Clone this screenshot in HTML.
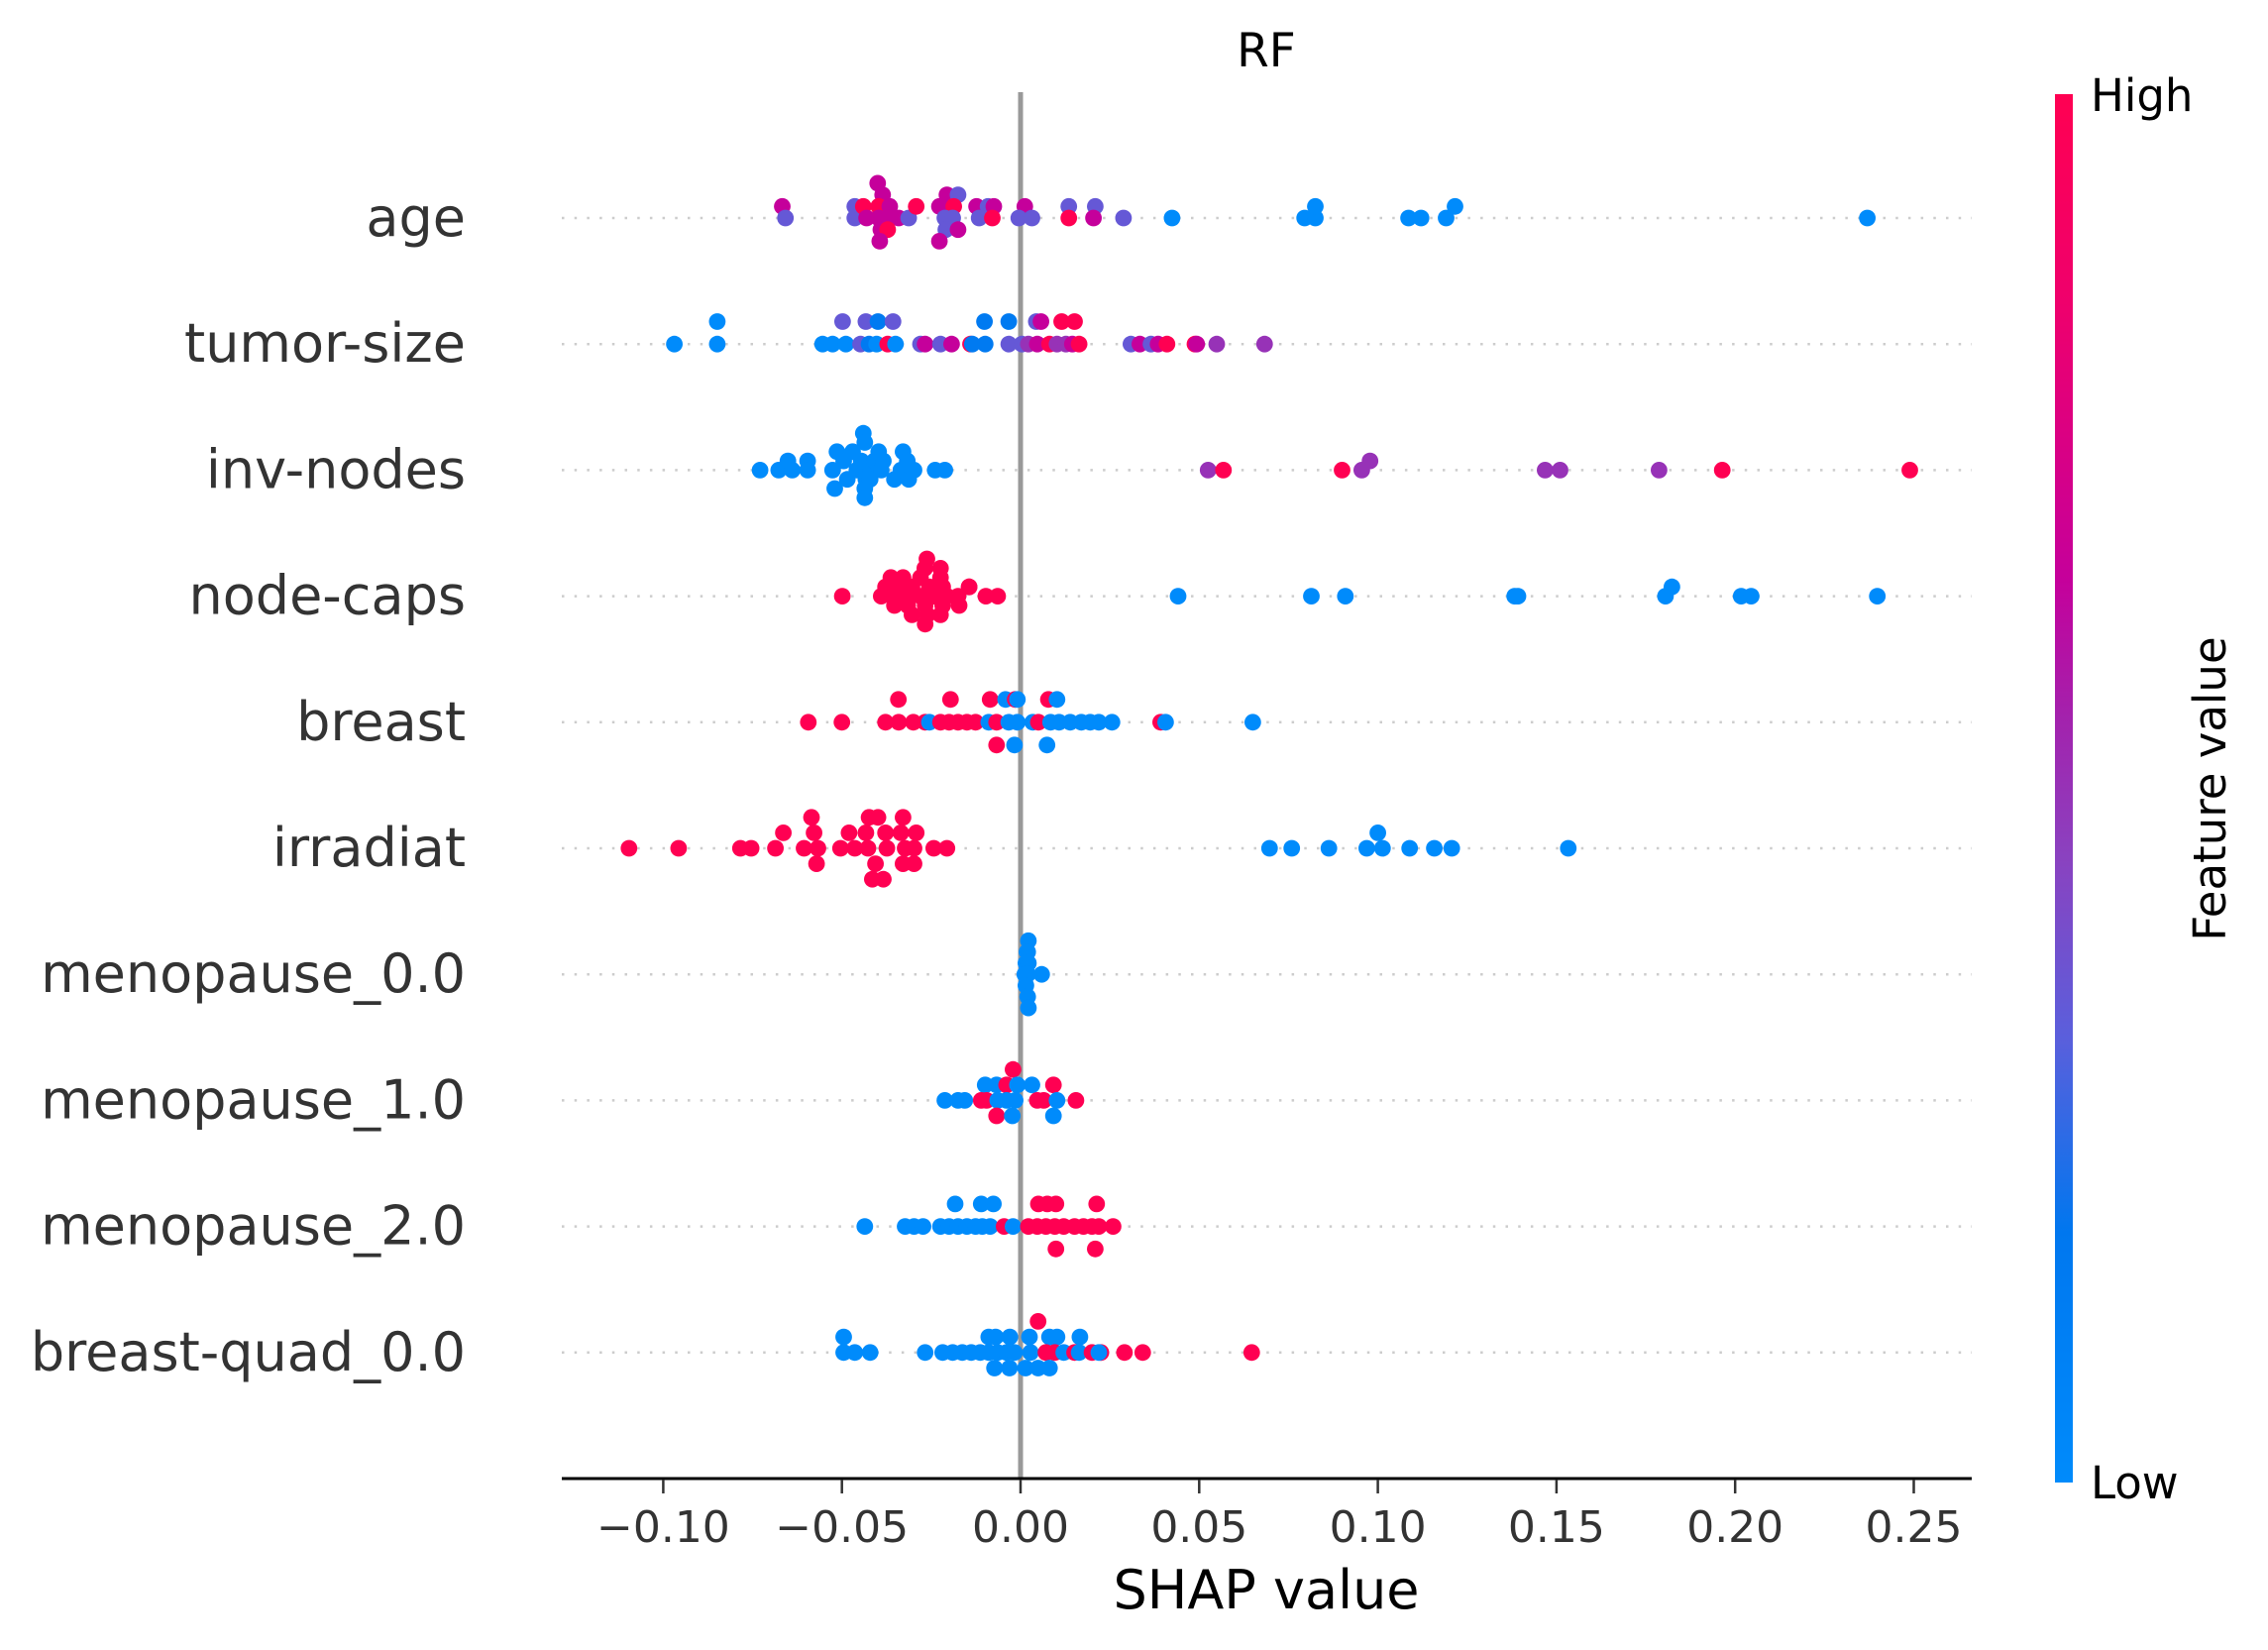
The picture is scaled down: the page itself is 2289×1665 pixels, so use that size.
<!DOCTYPE html>
<html><head><meta charset="utf-8"><style>
body{margin:0;background:#fff;}
svg{display:block;font-family:"DejaVu Sans","Liberation Sans",sans-serif;}
</style></head><body>
<svg id="chart" width="2289" height="1665" viewBox="0 0 2289 1665" xmlns="http://www.w3.org/2000/svg">
<defs>
<linearGradient id="cmap" x1="0" y1="1" x2="0" y2="0">
<stop offset="0" stop-color="#008bfb"/><stop offset="0.18" stop-color="#0077ef"/><stop offset="0.32" stop-color="#5a5fdc"/><stop offset="0.45" stop-color="#8a42c0"/><stop offset="0.55" stop-color="#a322ad"/><stop offset="0.65" stop-color="#c5009b"/><stop offset="0.85" stop-color="#ef006c"/><stop offset="1" stop-color="#ff0052"/>
</linearGradient>
</defs>
<text x="1278" y="67" font-size="47" text-anchor="middle" fill="#000">RF</text>
<g id="rows"></g>
<line x1="1030" y1="93" x2="1030" y2="1492" stroke="#999" stroke-width="5"/>
<g id="dots"></g>
<line x1="567" y1="1492" x2="1990" y2="1492" stroke="#000" stroke-width="3"/>
<g id="xticks"></g>
<text x="1278" y="1623" font-size="54" text-anchor="middle" fill="#000">SHAP value</text>
<rect x="2074" y="95" width="18" height="1401" fill="url(#cmap)"/>
<text x="2110" y="112" font-size="45" fill="#000">High</text>
<text x="2110" y="1512" font-size="45" fill="#000">Low</text>
<text transform="translate(2246,796) rotate(-90)" font-size="45" text-anchor="middle" fill="#000">Feature value</text>
</svg>
<script>
const features = ["age","tumor-size","inv-nodes","node-caps","breast","irradiat","menopause_0.0","menopause_1.0","menopause_2.0","breast-quad_0.0"];
const tickValues = [-0.10,-0.05,0.00,0.05,0.10,0.15,0.20,0.25];
const tickLabels = ["\u22120.10","\u22120.05","0.00","0.05","0.10","0.15","0.20","0.25"];
// points per feature: [shap value in hundredths, stack level, feature value 0..1]
const ageShap = [-6.67,-6.58,-4.64,-4.64,-4.40,-4.31,-4.0,-3.86,-3.97,-3.66,-3.97,-3.69,-3.41,-3.91,-3.72,-3.94,-3.13,-2.92,-2.27,-2.06,-1.75,-1.87,-2.12,-1.90,-2.09,-1.75,-2.27,-1.23,-0.91,-0.75,-1.16,-0.79,0.12,-0.05,0.32,1.35,1.35,2.09,2.04,2.88,4.24,7.95,8.25,8.25,10.86,11.21,11.91,12.16,23.70];
const ageLevel = [-1,0,-1,0,-1,0,-3,-2,-1,-1,0,0,0,1,1,2,0,-1,-1,-2,-2,-1,0,0,1,1,2,-1,-1,-1,0,0,-1,0,0,-1,0,-1,0,0,0,0,0,-1,0,0,0,-1,0];
const ageColor = [0.65,0.35,0.35,0.35,1,0.65,0.65,0.65,1,0.65,0.65,0.65,0.65,0.65,1,0.65,0.35,1,0.65,0.65,0.35,1,0.35,0.35,0.35,0.65,0.65,0.65,0.35,0.65,0.35,1,0.65,0.35,0.35,0.35,1,0.35,0.65,0.35,0,0,0,0,0,0,0,0,0];
const tumorShap = [-9.69,-8.49,-8.49,-5.54,-5.26,-4.89,-4.98,-4.33,-3.99,-3.57,-4.48,-4.24,-4.03,-3.72,-3.50,-2.80,-2.67,-2.24,-1.93,-1.40,-1.35,-0.99,-1.01,-0.33,0.44,0.57,1.15,1.51,-0.33,0.04,0.22,0.47,0.81,1.02,1.27,1.45,1.64,3.09,3.34,3.65,3.85,4.10,4.88,4.93,5.49,6.83];
const tumorLevel = [0,-1,0,0,0,0,-1,-1,-1,-1,0,0,0,0,0,0,0,0,0,0,0,0,-1,-1,-1,-1,-1,-1,0,0,0,0,0,0,0,0,0,0,0,0,0,0,0,0,0,0];
const tumorColor = [0,0,0,0,0,0,0.35,0.35,0.15,0.35,0.35,0.15,0,1,0,0.35,0.65,0.35,0.65,1,0.15,0.15,0.15,0.15,0.35,0.65,1,1,0.35,0.35,0.5,0.65,1,0.5,0.5,0.65,1,0.35,0.65,0.35,0.65,1,1,0.65,0.5,0.5];
const invShap = [-7.29,-6.77,-6.51,-6.39,-5.96,-5.96,-5.26,-5.14,-5.20,-4.95,-4.85,-4.70,-4.58,-4.40,-4.36,-4.46,-4.33,-4.36,-4.36,-4.19,-4.09,-3.97,-3.84,-3.90,-4.21,-3.53,-3.35,-3.29,-3.17,-3.13,-2.98,-2.39,-2.12,5.25,5.68,9.0,9.55,9.78,14.68,15.10,17.87,19.64,24.89];
const invLevel = [0,0,-1,0,-1,0,0,-2,2,-1,1,-2,0,-4,-3,-1,1,2,3,0,-1,-2,-1,0,1,1,0,-2,-1,1,0,0,0,0,0,0,0,-1,0,0,0,0,0];
const invColor = [0,0,0,0,0,0,0,0,0,0,0,0,0,0,0,0,0,0,0,0,0,0,0,0,0,0,0,0,0,0,0,0,0,0.5,1,1,0.5,0.5,0.5,0.5,0.5,1,1];
const capsShap = [-4.99,-0.97,-0.64,-2.62,-2.68,-2.24,-3.63,-3.29,-2.80,-2.24,-1.44,-3.78,-3.41,-3.04,-2.55,-2.18,-1.44,-3.90,-3.53,-3.16,-2.80,-2.43,-2.06,-1.75,-3.53,-3.16,-2.67,-2.18,-1.72,-3.04,-2.61,-2.24,-2.67,4.41,8.14,9.09,13.83,13.92,18.05,18.23,20.17,20.45,23.98];
const capsLevel = [0,0,0,-4,-3,-3,-2,-2,-2,-2,-1,-1,-1,-1,-1,-1,-1,0,0,0,0,0,0,0,1,1,1,1,1,2,2,2,3,0,0,0,0,0,0,-1,0,0,0];
const capsColor = [1,1,1,1,1,1,1,1,1,1,1,1,1,1,1,1,1,1,1,1,1,1,1,1,1,1,1,1,1,1,1,1,1,0,0,0,0,0,0,0,0,0,0];
const breastShap = [-3.42,-1.96,-0.85,-0.42,-0.15,-0.09,0.78,1.02,-5.94,-5.0,-3.78,-3.41,-3.0,-2.67,-2.55,-2.24,-2.0,-1.75,-1.50,-1.26,-0.89,-0.67,-0.33,-0.09,0.34,0.50,0.84,1.08,1.39,1.70,1.95,2.19,2.56,3.92,4.06,6.50,-0.67,-0.17,0.74];
const breastLevel = [-1,-1,-1,-1,-1,-1,-1,-1,0,0,0,0,0,0,0,0,0,0,0,0,0,0,0,0,0,0,0,0,0,0,0,0,0,0,0,0,1,1,1];
const breastColor = [1,1,1,0,1,0,1,0,1,1,1,1,1,1,0,1,1,1,1,1,0,1,0,0,0,1,0,0,0,0,0,0,0,1,0,0,1,0,0];
const irrShap = [-10.96,-9.57,-7.84,-7.54,-6.86,-6.06,-5.67,-5.04,-4.64,-4.27,-3.74,-3.23,-2.98,-2.43,-2.06,-6.64,-5.78,-4.80,-4.33,-3.78,-3.35,-2.92,-5.85,-4.24,-3.99,-3.29,-5.71,-4.06,-3.29,-2.98,-4.15,-3.84,6.97,7.59,8.63,9.69,10.0,10.13,10.89,11.58,12.07,15.33];
const irrLevel = [0,0,0,0,0,0,0,0,0,0,0,0,0,0,0,-1,-1,-1,-1,-1,-1,-1,-2,-2,-2,-2,1,1,1,1,2,2,0,0,0,0,-1,0,0,0,0,0];
const irrColor = [1,1,1,1,1,1,1,1,1,1,1,1,1,1,1,1,1,1,1,1,1,1,1,1,1,1,1,1,1,1,1,1,0,0,0,0,0,0,0,0,0,0];
const meno0Shap = [0.22,0.18,0.20,0.15,0.22,0.12,0.20,0.59,0.15,0.20,0.22];
const meno0Level = [-3,-2,-2,-1,-1,0,0,0,1,2,3];
const meno0Color = [0,0,0,0,0,0,0,0,0,0,0];
const meno1Shap = [-0.21,-0.99,-0.67,-0.39,-0.09,0.32,0.92,-2.12,-1.75,-1.56,-1.10,-0.95,-0.64,-0.39,-0.15,0.47,0.65,1.02,1.55,-0.67,-0.23,0.92];
const meno1Level = [-2,-1,-1,-1,-1,-1,-1,0,0,0,0,0,0,0,0,0,0,0,0,1,1,1];
const meno1Color = [1,0,0,1,0,0,1,0,0,0,1,1,0,0,0,1,1,0,1,1,0,0];
const meno2Shap = [-1.83,-1.10,-0.76,0.50,0.75,0.99,2.13,-4.36,-3.23,-2.98,-2.73,-2.24,-2.0,-1.75,-1.50,-1.26,-1.07,-0.85,-0.46,-0.21,0.22,0.47,0.71,0.96,1.21,1.51,1.76,2.0,2.19,2.59,0.99,2.09];
const meno2Level = [-1,-1,-1,-1,-1,-1,-1,0,0,0,0,0,0,0,0,0,0,0,0,0,0,0,0,0,0,0,0,0,0,0,1,1];
const meno2Color = [0,0,0,1,1,1,1,0,0,0,0,0,0,0,0,0,0,0,1,0,1,1,1,1,1,1,1,1,1,1,1,1];
const quadShap = [0.49,-4.95,-0.89,-0.70,-0.30,0.25,0.81,1.02,1.66,-4.95,-4.64,-4.21,-2.67,-2.18,-1.90,-1.63,-1.38,-1.13,-0.89,-0.64,-0.39,-0.17,0.28,0.71,0.96,1.21,1.51,1.64,2.0,2.25,2.19,2.91,3.42,6.47,-0.73,-0.31,0.14,0.49,0.81];
const quadLevel = [-2,-1,-1,-1,-1,-1,-1,-1,-1,0,0,0,0,0,0,0,0,0,0,0,0,0,0,0,0,0,0,0,0,0,0,0,0,0,1,1,1,1,1];
const quadColor = [1,0,0,0,0,0,0,0,0,0,0,0,0,0,0,0,0,0,0,0,0,0,0,1,1,0,1,0,1,1,0,1,1,1,0,0,0,0,0];

const seriesShap = [ageShap,tumorShap,invShap,capsShap,breastShap,irrShap,meno0Shap,meno1Shap,meno2Shap,quadShap];
const seriesLevel = [ageLevel,tumorLevel,invLevel,capsLevel,breastLevel,irrLevel,meno0Level,meno1Level,meno2Level,quadLevel];
const seriesColor = [ageColor,tumorColor,invColor,capsColor,breastColor,irrColor,meno0Color,meno1Color,meno2Color,quadColor];

const NS = "http://www.w3.org/2000/svg";
const X0 = 1030, PX_PER_UNIT = 3606;
function xScale(v){ return X0 + v*PX_PER_UNIT; }
function yScale(i){ return 220 + i*127.2; }
const levelStep = [11.7,22.7,9.3,9.4,23,15.6,11.3,15.6,22.7,15.7];
const stops = [[0,[0,139,251]],[0.18,[0,119,239]],[0.32,[90,95,220]],[0.45,[138,66,192]],[0.55,[163,34,173]],[0.65,[197,0,155]],[0.85,[239,0,108]],[1,[255,0,82]]];
function cmap(t){
  for(let k=1;k<stops.length;k++){
    if(t<=stops[k][0]){
      const a=stops[k-1],b=stops[k],f=(t-a[0])/(b[0]-a[0]);
      const c=a[1].map((v,j)=>Math.round(v+(b[1][j]-v)*f));
      return `rgb(${c[0]},${c[1]},${c[2]})`;
    }
  }
  return "rgb(255,0,82)";
}
const rowsG=document.getElementById("rows"), dotsG=document.getElementById("dots"), ticksG=document.getElementById("xticks");
features.forEach((f,i)=>{
  const y=yScale(i);
  const ln=document.createElementNS(NS,"line");
  
  
  ln.setAttribute("x1",567);ln.setAttribute("x2",1990);ln.setAttribute("y1",y);ln.setAttribute("y2",y);
  ln.setAttribute("stroke","#cccccc");ln.setAttribute("stroke-width","2.5");ln.setAttribute("stroke-dasharray","2.5 10.2");
  rowsG.appendChild(ln);
  const t=document.createElementNS(NS,"text");
  
  
  t.setAttribute("x",470);t.setAttribute("y",y+18);t.setAttribute("text-anchor","end");
  t.setAttribute("font-size","54");t.setAttribute("fill","#333333");
  t.textContent=f; rowsG.appendChild(t);
  const sv=seriesShap[i], lv=seriesLevel[i], cv=seriesColor[i];
  for(let k=0;k<sv.length;k++){
    const c=document.createElementNS(NS,"circle");
    
    
    c.setAttribute("cx",xScale(sv[k]/100).toFixed(1));
    c.setAttribute("cy",(y+lv[k]*levelStep[i]).toFixed(1));
    c.setAttribute("r","8.4");
    c.setAttribute("fill",cmap(cv[k]));
    dotsG.appendChild(c);
  }
});
tickValues.forEach((v,k)=>{
  const x=xScale(v);
  const tk=document.createElementNS(NS,"line");
  
  
  tk.setAttribute("x1",x);tk.setAttribute("x2",x);tk.setAttribute("y1",1493);tk.setAttribute("y2",1507);
  tk.setAttribute("stroke","#333");tk.setAttribute("stroke-width","2.5");
  ticksG.appendChild(tk);
  const t=document.createElementNS(NS,"text");
  
  
  t.setAttribute("x",x);t.setAttribute("y",1556);t.setAttribute("text-anchor","middle");
  t.setAttribute("font-size","44");t.setAttribute("fill","#333333");
  t.textContent=tickLabels[k]; ticksG.appendChild(t);
});
</script>
</body></html>
